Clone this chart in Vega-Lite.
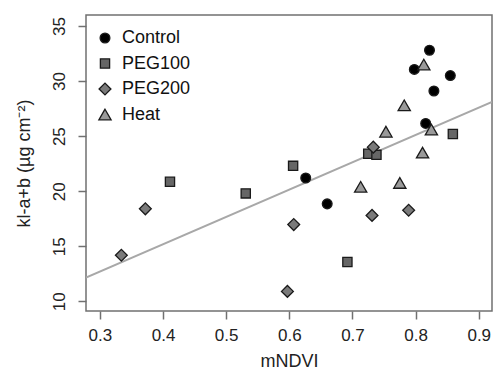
{
  "$schema": "https://vega.github.io/schema/vega-lite/v6.json",
  "width": 406,
  "height": 296,
  "autosize": {"type": "none"},
  "padding": {"left": 86, "top": 15, "right": 2, "bottom": 63},
  "background": "white",
  "config": {
    "view": {"stroke": "#707070", "strokeWidth": 1.5},
    "font": "Liberation Sans",
    "axis": {
      "grid": false,
      "domain": false,
      "tickColor": "#707070",
      "tickWidth": 1.5,
      "tickSize": 8,
      "labelFont": "Liberation Sans",
      "labelFontSize": 17,
      "labelColor": "#222",
      "titleFont": "Liberation Sans",
      "titleFontSize": 18,
      "titleFontWeight": "normal",
      "titleColor": "#222"
    },
    "legend": {
      "labelFont": "Liberation Sans",
      "labelFontSize": 18,
      "labelColor": "#111"
    }
  },
  "datasets": {
    "pts": [
      {"g": "Control", "x": 0.822, "y": 32.8},
      {"g": "Control", "x": 0.798, "y": 31.06},
      {"g": "Control", "x": 0.855, "y": 30.5},
      {"g": "Control", "x": 0.829, "y": 29.1},
      {"g": "Control", "x": 0.816, "y": 26.15},
      {"g": "Control", "x": 0.626, "y": 21.2},
      {"g": "Control", "x": 0.66, "y": 18.85},
      {"g": "PEG100", "x": 0.859, "y": 25.2},
      {"g": "PEG100", "x": 0.725, "y": 23.4},
      {"g": "PEG100", "x": 0.738, "y": 23.3},
      {"g": "PEG100", "x": 0.606, "y": 22.3},
      {"g": "PEG100", "x": 0.411, "y": 20.85},
      {"g": "PEG100", "x": 0.531, "y": 19.8},
      {"g": "PEG100", "x": 0.692, "y": 13.57},
      {"g": "PEG200", "x": 0.733, "y": 24.0},
      {"g": "PEG200", "x": 0.372, "y": 18.4},
      {"g": "PEG200", "x": 0.334, "y": 14.18},
      {"g": "PEG200", "x": 0.607, "y": 16.97},
      {"g": "PEG200", "x": 0.731, "y": 17.8},
      {"g": "PEG200", "x": 0.789, "y": 18.27},
      {"g": "PEG200", "x": 0.597, "y": 10.9},
      {"g": "Heat", "x": 0.813, "y": 31.5},
      {"g": "Heat", "x": 0.782, "y": 27.8},
      {"g": "Heat", "x": 0.753, "y": 25.4},
      {"g": "Heat", "x": 0.825, "y": 25.6},
      {"g": "Heat", "x": 0.811, "y": 23.5},
      {"g": "Heat", "x": 0.713, "y": 20.4},
      {"g": "Heat", "x": 0.775, "y": 20.75}
    ],
    "fit": [
      {"x": 0.278, "y": 12.15},
      {"x": 0.921, "y": 28.1}
    ]
  },
  "layer": [
    {
      "data": {"name": "fit"},
      "mark": {"type": "line", "color": "#a8a8a8", "strokeWidth": 2, "clip": true},
      "encoding": {
        "x": {"field": "x", "type": "quantitative"},
        "y": {"field": "y", "type": "quantitative"}
      }
    },
    {
      "data": {"name": "pts"},
      "mark": {"type": "point", "filled": true, "stroke": "#1a1a1a", "strokeWidth": 1.3, "opacity": 1},
      "encoding": {
        "x": {
          "field": "x", "type": "quantitative",
          "scale": {"domain": [0.278, 0.921], "nice": false, "zero": false},
          "axis": {"values": [0.3, 0.4, 0.5, 0.6, 0.7, 0.8, 0.9], "format": ".1f", "labelPadding": 8, "title": "mNDVI", "titlePadding": 9}
        },
        "y": {
          "field": "y", "type": "quantitative",
          "scale": {"domain": [9.12, 36], "nice": false, "zero": false},
          "axis": {"values": [10, 15, 20, 25, 30, 35], "labelAngle": -90, "labelAlign": "center", "labelBaseline": "bottom", "labelPadding": 10, "title": "kl-a+b (µg cm⁻²)", "titlePadding": 17}
        },
        "shape": {
          "field": "g", "type": "ordinal",
          "scale": {"domain": ["Control", "PEG100", "PEG200", "Heat"], "range": ["circle", "square", "diamond", "triangle-up"]},
          "legend": {"title": null, "orient": "none", "legendX": 10, "legendY": 14, "rowPadding": 7.5, "symbolStrokeWidth": 1.3, "labelOffset": 8}
        },
        "fill": {
          "field": "g", "type": "ordinal",
          "scale": {"domain": ["Control", "PEG100", "PEG200", "Heat"], "range": ["#000000", "#666666", "#7a7a7a", "#9a9a9a"]},
          "legend": {"title": null, "orient": "none", "legendX": 10, "legendY": 14, "rowPadding": 7.5, "symbolStrokeWidth": 1.3, "labelOffset": 8}
        },
        "size": {
          "field": "g", "type": "ordinal",
          "scale": {"type": "ordinal", "domain": ["Control", "PEG100", "PEG200", "Heat"], "range": [95, 85, 140, 150]},
          "legend": {"title": null, "orient": "none", "legendX": 10, "legendY": 14, "rowPadding": 7.5, "symbolStrokeWidth": 1.3, "labelOffset": 8}
        }
      }
    }
  ]
}
